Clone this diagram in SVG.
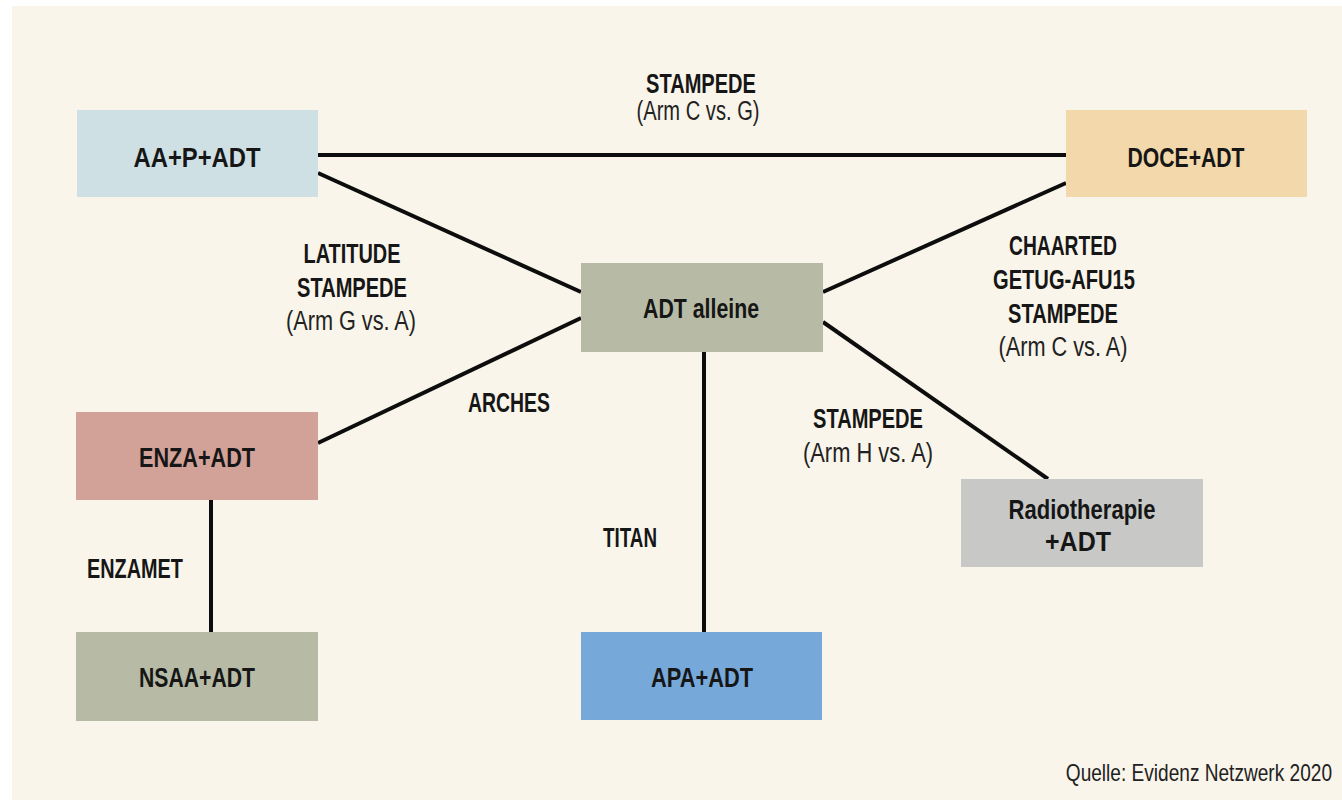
<svg xmlns="http://www.w3.org/2000/svg" width="1342" height="800" viewBox="0 0 1342 800">
<style>
.b{font-family:"Liberation Sans",Arial,sans-serif;font-weight:bold;font-size:28px;fill:#161616;text-anchor:middle}
.r{font-family:"Liberation Sans",Arial,sans-serif;font-size:27px;fill:#222;text-anchor:middle}
.n{font-family:"Liberation Sans",Arial,sans-serif;font-weight:bold;font-size:28px;fill:#161616;text-anchor:middle}
.c{stroke:#0d0d0d;stroke-width:4;fill:none}
</style>
<rect x="0" y="0" width="1342" height="800" fill="#ffffff"/>
<rect x="12" y="6" width="1330" height="794" fill="#f9f5ea"/>
<g id="connectors">
<line class="c" x1="318" y1="155" x2="1066" y2="155"/>
<line class="c" x1="318" y1="173" x2="581" y2="292"/>
<line class="c" x1="1066" y1="183" x2="823" y2="292"/>
<line class="c" x1="581" y1="318" x2="318" y2="443"/>
<line class="c" x1="823" y1="322" x2="1048" y2="479"/>
<line class="c" x1="704" y1="352" x2="704" y2="632"/>
<line class="c" x1="211" y1="500" x2="211" y2="632"/>
</g>
<g id="labels">
<text class="b" x="701" y="93" textLength="110" lengthAdjust="spacingAndGlyphs">STAMPEDE</text>
<text class="r" x="698" y="120" textLength="123" lengthAdjust="spacingAndGlyphs">(Arm C vs. G)</text>
<text class="b" x="352" y="263" textLength="97" lengthAdjust="spacingAndGlyphs">LATITUDE</text>
<text class="b" x="352" y="297" textLength="110" lengthAdjust="spacingAndGlyphs">STAMPEDE</text>
<text class="r" x="351" y="330" textLength="130" lengthAdjust="spacingAndGlyphs">(Arm G vs. A)</text>
<text class="b" x="509" y="412" textLength="82" lengthAdjust="spacingAndGlyphs">ARCHES</text>
<text class="b" x="1063" y="255" textLength="108" lengthAdjust="spacingAndGlyphs">CHAARTED</text>
<text class="b" x="1064" y="289" textLength="142" lengthAdjust="spacingAndGlyphs">GETUG-AFU15</text>
<text class="b" x="1063" y="323" textLength="110" lengthAdjust="spacingAndGlyphs">STAMPEDE</text>
<text class="r" x="1063" y="356" textLength="129" lengthAdjust="spacingAndGlyphs">(Arm C vs. A)</text>
<text class="b" x="868" y="428" textLength="110" lengthAdjust="spacingAndGlyphs">STAMPEDE</text>
<text class="r" x="868" y="462" textLength="130" lengthAdjust="spacingAndGlyphs">(Arm H vs. A)</text>
<text class="b" x="630" y="547" textLength="54" lengthAdjust="spacingAndGlyphs">TITAN</text>
<text class="b" x="135" y="578" textLength="96" lengthAdjust="spacingAndGlyphs">ENZAMET</text>
<text class="r" transform="translate(1332,781) scale(0.83,1)" x="0" y="0" style="font-size:23px;text-anchor:end">Quelle: Evidenz Netzwerk 2020</text>
</g>
<g id="aa">
<rect x="77" y="110" width="241" height="87" fill="#cfe0e5"/>
<text class="n" x="197" y="167" textLength="127" lengthAdjust="spacingAndGlyphs">AA+P+ADT</text>
</g>
<g id="doce">
<rect x="1066" y="110" width="241" height="87" fill="#f2d8aa"/>
<text class="n" x="1186" y="167" textLength="117" lengthAdjust="spacingAndGlyphs">DOCE+ADT</text>
</g>
<g id="adt">
<rect x="581" y="263" width="242" height="89" fill="#b7bba5"/>
<text class="n" x="701" y="318" textLength="116" lengthAdjust="spacingAndGlyphs">ADT alleine</text>
</g>
<g id="enza">
<rect x="76" y="412" width="242" height="88" fill="#d2a198"/>
<text class="n" x="197" y="467" textLength="116" lengthAdjust="spacingAndGlyphs">ENZA+ADT</text>
</g>
<g id="nsaa">
<rect x="76" y="632" width="242" height="89" fill="#b7bba5"/>
<text class="n" x="197" y="687" textLength="116" lengthAdjust="spacingAndGlyphs">NSAA+ADT</text>
</g>
<g id="apa">
<rect x="581" y="632" width="241" height="88" fill="#76a9d9"/>
<text class="n" x="702" y="687" textLength="102" lengthAdjust="spacingAndGlyphs">APA+ADT</text>
</g>
<g id="radio">
<rect x="961" y="479" width="242" height="88" fill="#c8c9c6"/>
<text class="n" x="1082" y="519" textLength="147" lengthAdjust="spacingAndGlyphs">Radiotherapie</text>
<text class="n" x="1078" y="551" textLength="66" lengthAdjust="spacingAndGlyphs">+ADT</text>
</g>
</svg>
